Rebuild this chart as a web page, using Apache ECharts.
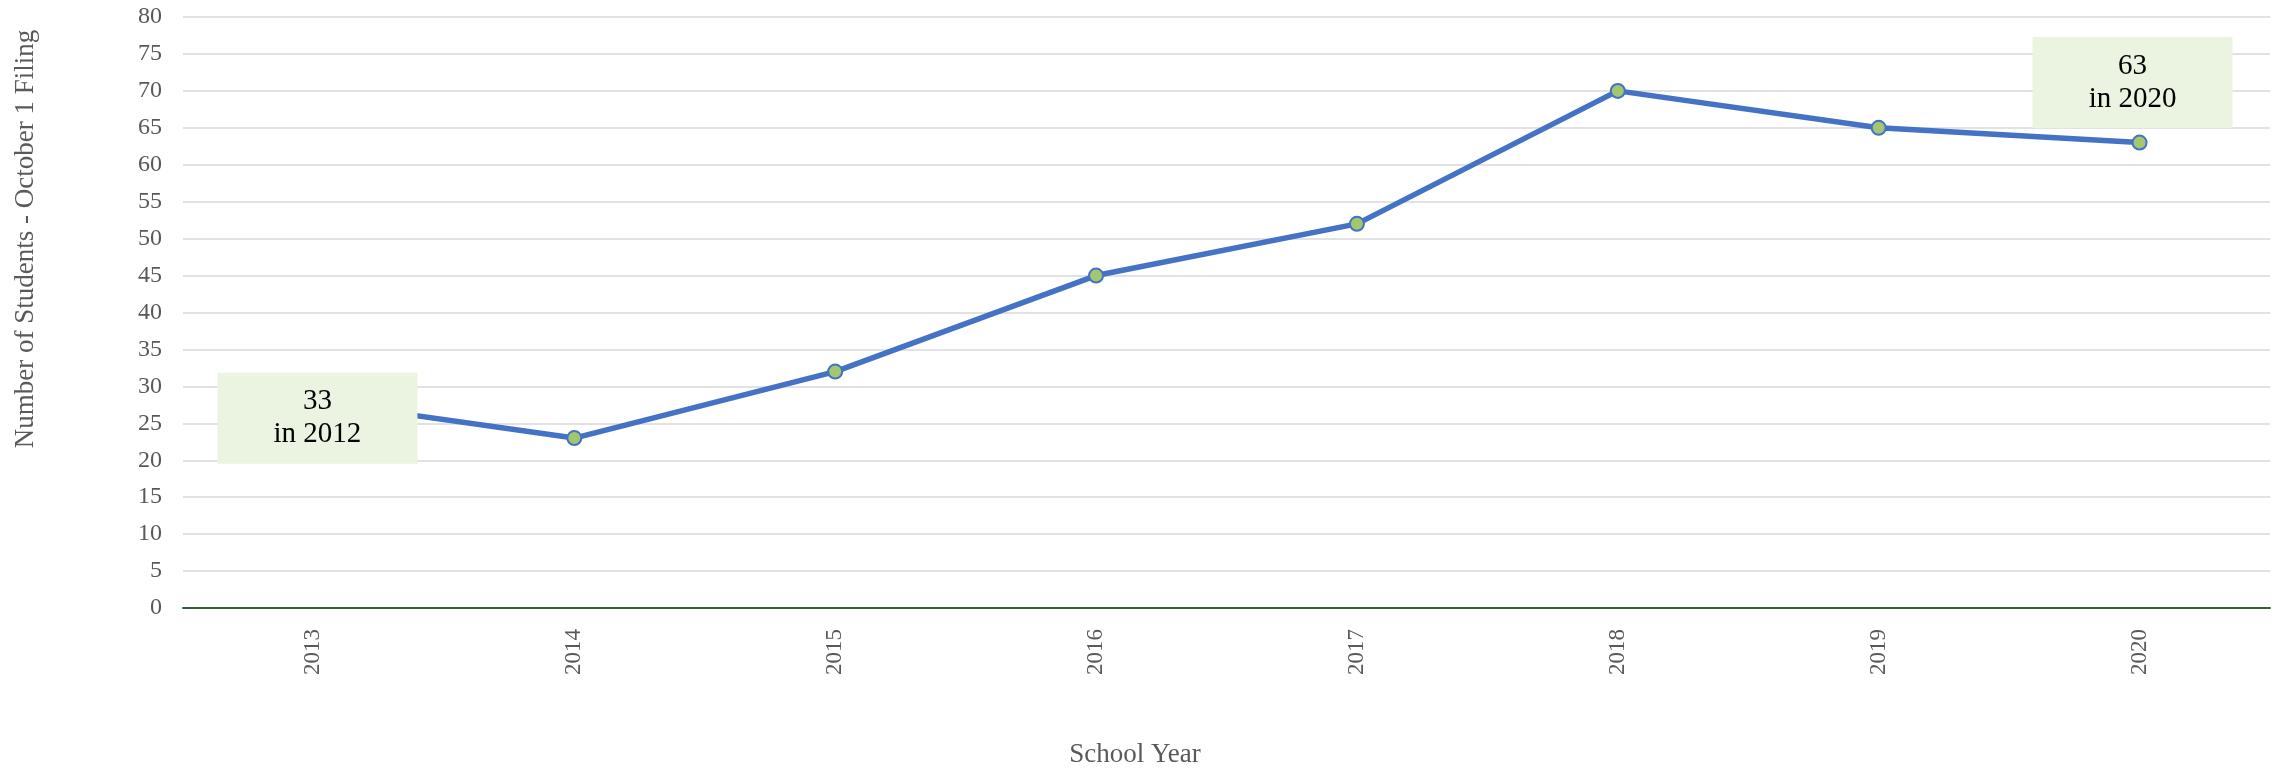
<!DOCTYPE html>
<html>
<head>
<meta charset="utf-8">
<script src="https://cdn.jsdelivr.net/npm/echarts@6/dist/echarts.min.js"></script>
<style>html,body{margin:0;padding:0;background:#fff;}#c{width:2282px;height:768px;}</style>
</head>
<body>
<div id="c"></div>
<script>
const categories = ['2013','2014','2015','2016','2017','2018','2019','2020'];
const students = [28, 23, 32, 45, 52, 70, 65, 63];
const yTicks = {min: 0, max: 80, interval: 5};
const notes = [
  {year: '2013', text: '33\nin 2012'},
  {year: '2020', text: '63\nin 2020'}
];
const yTitle = 'Number of Students - October 1 Filing';
const xTitle = 'School Year';

const FONT = '"Liberation Serif", "Times New Roman", serif';
const chart = echarts.init(document.getElementById('c'));

const noteStyle = [
  {offset: [4, 17]},
  {offset: [-7, -60]}
];

chart.setOption({
  animation: false,
  backgroundColor: '#ffffff',
  grid: {left: 183, right: 12, top: 17, bottom: 160},
  xAxis: {
    type: 'category',
    data: categories,
    boundaryGap: true,
    axisLine: {lineStyle: {color: '#375E3D', width: 2}},
    axisTick: {show: false},
    axisLabel: {rotate: 90, margin: 21, color: '#595959', fontFamily: FONT, fontSize: 23}
  },
  yAxis: {
    type: 'value',
    min: yTicks.min, max: yTicks.max, interval: yTicks.interval,
    axisLine: {show: false},
    axisTick: {show: false},
    axisLabel: {margin: 21, color: '#595959', fontFamily: FONT, fontSize: 24},
    splitLine: {lineStyle: {color: '#D9D9D9', width: 1.5}}
  },
  graphic: [
    {type: 'text', x: 26, y: 239, rotation: Math.PI / 2,
     style: {text: yTitle, fill: '#595959', font: '27px ' + FONT, textAlign: 'center', textVerticalAlign: 'middle'}},
    {type: 'text', x: 1135, y: 755,
     style: {text: xTitle, fill: '#595959', font: '27px ' + FONT, textAlign: 'center', textVerticalAlign: 'middle'}}
  ],
  series: [{
    type: 'line',
    data: students,
    symbol: 'circle',
    symbolSize: 14,
    lineStyle: {color: '#4472C4', width: 5.5},
    itemStyle: {color: '#A3C671', borderColor: '#4472C4', borderWidth: 2},
    markPoint: {
      z: 5,
      data: notes.map((n, i) => ({
        coord: [n.year, students[categories.indexOf(n.year)]],
        symbol: 'rect',
        symbolSize: [200, 91],
        symbolOffset: noteStyle[i].offset,
        itemStyle: {color: '#EBF3E1'},
        label: {show: true, position: 'inside', formatter: n.text, color: '#000',
                fontFamily: FONT, fontSize: 29, lineHeight: 33, padding: [8, 0, 0, 0]}
      }))
    }
  }]
});
</script>
</body>
</html>
